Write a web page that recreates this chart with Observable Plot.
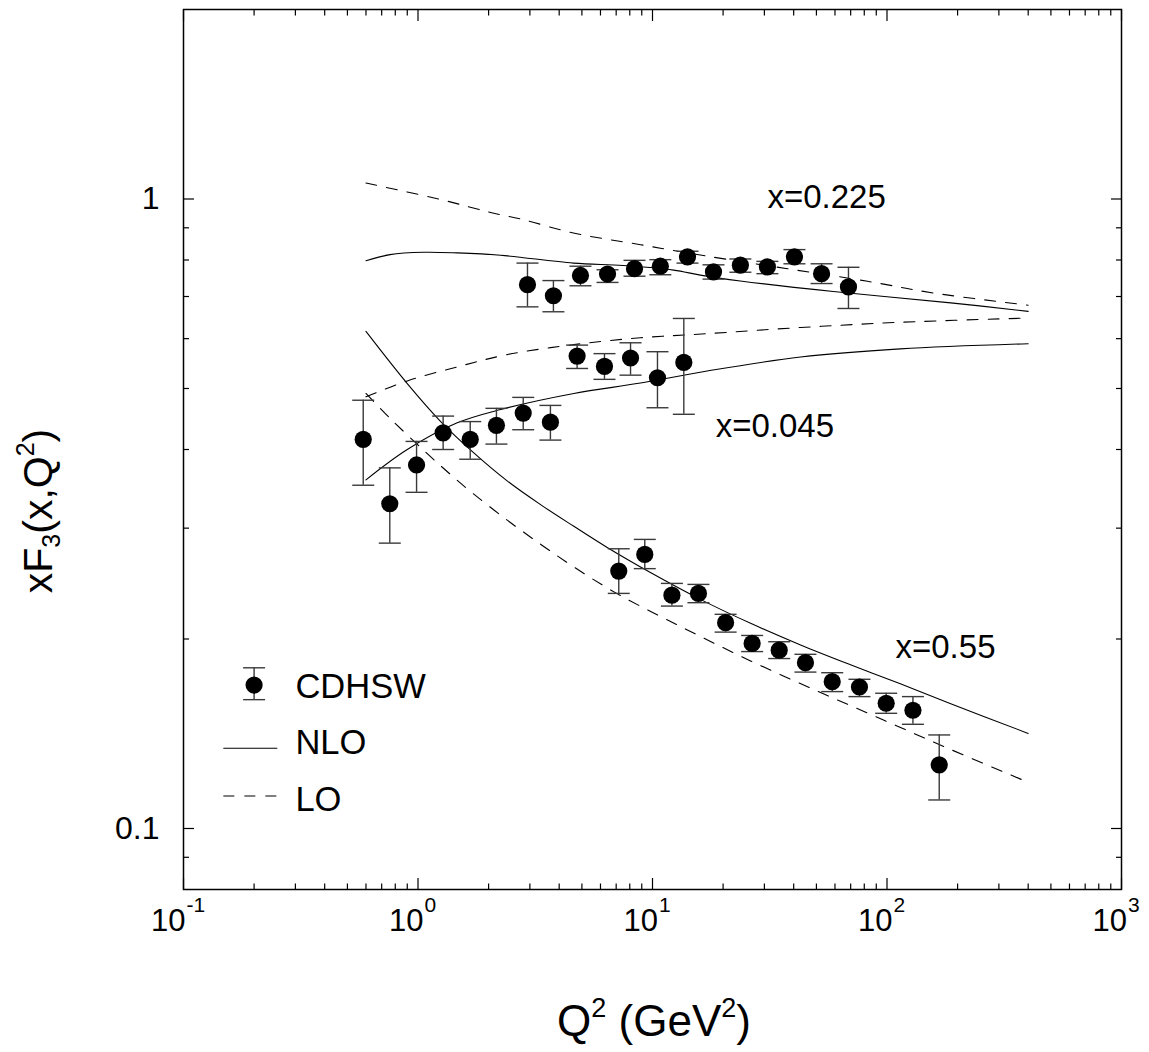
<!DOCTYPE html>
<html><head><meta charset="utf-8">
<script src="https://cdn.jsdelivr.net/npm/d3@7"></script>
<script src="https://cdn.jsdelivr.net/npm/@observablehq/plot@0.6"></script>
<style>
html,body{margin:0;padding:0;background:#fff;}
#chart{width:1149px;height:1052px;}
</style></head><body><div id="chart"></div>
<script>
// ---------- data ----------
// CDHSW points, x = 0.225
const q225  = [2.93, 3.78, 4.93, 6.43, 8.38, 10.8, 14.1, 18.2, 23.7, 30.9, 40.3, 52.6, 68.5];
const y225  = [0.731, 0.702, 0.756, 0.760, 0.775, 0.782, 0.809, 0.766, 0.785, 0.780, 0.809, 0.761, 0.725];
const lo225 = [0.674, 0.662, 0.728, 0.737, 0.754, 0.758, 0.791, 0.746, 0.765, 0.761, 0.789, 0.734, 0.670];
const hi225 = [0.791, 0.742, 0.782, 0.772, 0.799, 0.801, 0.826, 0.786, 0.803, 0.796, 0.831, 0.789, 0.779];
// CDHSW points, x = 0.045
const q045  = [0.584, 0.758, 0.986, 1.28, 1.67, 2.16, 2.81, 3.67, 4.77, 6.24, 8.06, 10.5, 13.6];
const y045  = [0.415, 0.328, 0.378, 0.425, 0.415, 0.437, 0.457, 0.442, 0.563, 0.542, 0.559, 0.520, 0.550];
const lo045 = [0.351, 0.284, 0.342, 0.400, 0.386, 0.408, 0.430, 0.414, 0.538, 0.517, 0.525, 0.466, 0.455];
const hi045 = [0.479, 0.374, 0.412, 0.452, 0.443, 0.465, 0.484, 0.470, 0.586, 0.568, 0.591, 0.572, 0.646];
// CDHSW points, x = 0.55
const q55  = [7.18, 9.27, 12.1, 15.7, 20.5, 26.6, 34.7, 44.9, 58.4, 76.3, 99.2, 129, 167];
const y55  = [0.2564, 0.2725, 0.2348, 0.2363, 0.2123, 0.1968, 0.1920, 0.1834, 0.1711, 0.1678, 0.1581, 0.1541, 0.1262];
const lo55 = [0.2363, 0.2587, 0.2256, 0.2284, 0.2051, 0.1910, 0.1862, 0.1772, 0.1650, 0.1620, 0.1524, 0.1464, 0.1110];
const hi55 = [0.2782, 0.2879, 0.2451, 0.2442, 0.2189, 0.2026, 0.1980, 0.1891, 0.1768, 0.1726, 0.1640, 0.1620, 0.1408];

// NLO (solid) and LO (dashed) curves
const nlo225Q = [0.6, 0.76, 1.06, 1.47, 2.25, 4.6, 7.5, 12.3, 16, 23.7, 59, 187, 400];
const nlo225Y = [0.798, 0.816, 0.823, 0.821, 0.814, 0.791, 0.784, 0.771, 0.757, 0.741, 0.713, 0.684, 0.663];
const lo225Q  = [0.6, 1.25, 2.04, 2.82, 4.6, 8.89, 17.2, 82.6, 158, 400];
const lo225Y  = [1.060, 0.998, 0.952, 0.927, 0.883, 0.846, 0.811, 0.740, 0.709, 0.678];
const nlo045Q = [0.6, 0.9, 1.47, 2.25, 4.62, 8.89, 17.1, 42.8, 114, 400];
const nlo045Y = [0.358, 0.400, 0.441, 0.463, 0.491, 0.510, 0.533, 0.561, 0.578, 0.589];
const lo045Q  = [0.6, 0.9, 1.47, 2.4, 4.62, 8.89, 17.1, 42.8, 114, 400];
const lo045Y  = [0.485, 0.514, 0.541, 0.566, 0.587, 0.602, 0.611, 0.625, 0.637, 0.647];
const nlo55Q  = [0.6, 0.9, 1.25, 1.73, 2.40, 3.33, 4.62, 6.41, 9.80, 16.0, 26.2, 42.8, 69.9, 114, 187, 400];
const nlo55Y  = [0.616, 0.509, 0.443, 0.395, 0.3566, 0.327, 0.302, 0.2795, 0.255, 0.2312, 0.2118, 0.1957, 0.182, 0.1698, 0.1578, 0.1416];
const lo55Q   = [0.6, 0.763, 1.056, 1.376, 1.725, 2.41, 3.33, 4.60, 7.09, 13.6, 26.2, 50.5, 96.6, 187, 400];
const lo55Y   = [0.491, 0.4477, 0.399, 0.365, 0.340, 0.3086, 0.2829, 0.2606, 0.2359, 0.2081, 0.1846, 0.1653, 0.1487, 0.1335, 0.1184];

// curve labels
const annLabels = ["x=0.225", "x=0.045", "x=0.55"];
const annQ = [30.9, 18.6, 108.7];
const annY = [0.969, 0.418, 0.1868];

// ticks
const xMajor = [0.1, 1, 10, 100, 1000];
const xExpLabels = ["-1", "0", "1", "2", "3"];
const xMinor = [0.2,0.3,0.4,0.5,0.6,0.7,0.8,0.9, 2,3,4,5,6,7,8,9, 20,30,40,50,60,70,80,90, 200,300,400,500,600,700,800,900];
const yMajor = [0.1, 1];
const yTickLabels = ["0.1", "1"];
const yMinor = [0.09, 0.2, 0.3, 0.4, 0.5, 0.6, 0.7, 0.8, 0.9];

const legendLabels = ["CDHSW", "NLO", "LO"];

// ---------- tables ----------
const points = [
  ...q225.map((q,i)=>({q, y:y225[i], lo:lo225[i], hi:hi225[i]})),
  ...q045.map((q,i)=>({q, y:y045[i], lo:lo045[i], hi:hi045[i]})),
  ...q55.map((q,i)=>({q, y:y55[i], lo:lo55[i], hi:hi55[i]}))
];
const mk = (id, Q, Y) => Q.map((q,i)=>({id, q, y:Y[i]}));
const nloCurves = [...mk("225",nlo225Q,nlo225Y), ...mk("045",nlo045Q,nlo045Y), ...mk("55",nlo55Q,nlo55Y)];
const loCurves  = [...mk("225",lo225Q,lo225Y),  ...mk("045",lo045Q,lo045Y),  ...mk("55",lo55Q,lo55Y)];
const ann = annLabels.map((t,i)=>({t, q:annQ[i], y:annY[i]}));

const FONT = "'Liberation Sans', Arial, Helvetica, sans-serif";
const capSymbol = {draw(ctx){ ctx.moveTo(-11,0); ctx.lineTo(11,0); }};
const DASH = "11,10";
const ERR = "#3a3a3a";

const legendX = 0.2, legendTextX = 0.30;
const legendRows = [
  {t: legendLabels[0], y: 0.1614},
  {t: legendLabels[1], y: 0.1312},
  {t: legendLabels[2], y: 0.1066}
];

const plot = Plot.plot({
  width: 1149, height: 1052,
  marginLeft: 183, marginRight: 28, marginTop: 9, marginBottom: 163,
  style: {fontFamily: FONT, fontSize: "31px", color: "black", background: "white", overflow: "visible"},
  x: {type: "log", domain: [0.1, 1000], axis: null},
  y: {type: "log", domain: [0.08, 2], axis: null},
  marks: [
    // inward ticks on all four sides
    Plot.axisX(xMajor, {anchor: "bottom", tickSize: -11, tickFormat: () => "", label: null, strokeWidth: 1.2}),
    Plot.axisX(xMinor, {anchor: "bottom", tickSize: -5.5, tickFormat: () => "", label: null, strokeWidth: 1.2}),
    Plot.axisX(xMajor, {anchor: "top", tickSize: -11, tickFormat: () => "", label: null, strokeWidth: 1.2}),
    Plot.axisX(xMinor, {anchor: "top", tickSize: -5.5, tickFormat: () => "", label: null, strokeWidth: 1.2}),
    Plot.axisY(yMajor, {anchor: "left", tickSize: -11, tickFormat: () => "", label: null, strokeWidth: 1.2}),
    Plot.axisY(yMinor, {anchor: "left", tickSize: -6, tickFormat: () => "", label: null, strokeWidth: 1.2}),
    Plot.axisY(yMajor, {anchor: "right", tickSize: -11, tickFormat: () => "", label: null, strokeWidth: 1.2}),
    Plot.axisY(yMinor, {anchor: "right", tickSize: -6, tickFormat: () => "", label: null, strokeWidth: 1.2}),
    Plot.frame({stroke: "black", strokeWidth: 1.5}),
    // y tick labels
    Plot.text(yMajor, {y: d => d, frameAnchor: "left", dx: -24, text: (d,i) => yTickLabels[i], textAnchor: "end", lineAnchor: "middle", fontSize: 32}),
    // theory curves
    Plot.line(nloCurves, {x: "q", y: "y", z: "id", curve: "catmull-rom", stroke: "black", strokeWidth: 1.1}),
    Plot.line(loCurves,  {x: "q", y: "y", z: "id", curve: "catmull-rom", stroke: "black", strokeWidth: 1.1, strokeDasharray: DASH}),
    // data with error bars
    Plot.ruleX(points, {x: "q", y1: "lo", y2: "hi", stroke: ERR, strokeWidth: 1.4}),
    Plot.dot(points, {x: "q", y: "lo", symbol: capSymbol, stroke: ERR, strokeWidth: 1.4, fill: "none"}),
    Plot.dot(points, {x: "q", y: "hi", symbol: capSymbol, stroke: ERR, strokeWidth: 1.4, fill: "none"}),
    Plot.dot(points, {x: "q", y: "y", r: 8.6, fill: "black", stroke: "none"}),
    // curve labels
    Plot.text(ann, {x: "q", y: "y", text: "t", textAnchor: "start", lineAnchor: "bottom", fontSize: 33}),
    // legend
    Plot.ruleX([legendX], {x: d => d, y1: 0.1602, y2: 0.180, stroke: ERR, strokeWidth: 1.4}),
    Plot.dot([0.1602, 0.180], {x: () => legendX, y: d => d, symbol: capSymbol, stroke: ERR, strokeWidth: 1.4, fill: "none"}),
    Plot.dot([0.169], {x: () => legendX, y: d => d, r: 8.6, fill: "black"}),
    Plot.ruleY([0.1341], {y: d => d, x1: 0.1486, x2: 0.2524, stroke: "black", strokeWidth: 1.1}),
    Plot.ruleY([0.1126], {y: d => d, x1: 0.1486, x2: 0.2524, stroke: "black", strokeWidth: 1.1, strokeDasharray: DASH}),
    Plot.text(legendRows, {x: () => legendTextX, y: "y", text: "t", textAnchor: "start", lineAnchor: "bottom", fontSize: 34.5})
  ]
});

document.getElementById("chart").appendChild(plot);

// x tick labels with superscript exponents, placed through Plot's scales
const svg = d3.select(plot);
const sx = plot.scale("x"), sy = plot.scale("y");
const yBottom = sy.apply(0.08);
xMajor.forEach((v, i) => {
  const t = svg.append("text")
    .attr("x", sx.apply(v) - 5).attr("y", yBottom + 42)
    .attr("text-anchor", "middle").attr("font-family", FONT).attr("font-size", 31).attr("fill", "black");
  t.append("tspan").text("10");
  t.append("tspan").attr("font-size", 21).attr("dy", -19).attr("dx", 1).text(xExpLabels[i]);
});

// x axis title
const xc = (sx.apply(0.1) + sx.apply(1000)) / 2 + 2;
const xt = svg.append("text").attr("x", xc).attr("y", yBottom + 147)
  .attr("text-anchor", "middle").attr("font-family", FONT).attr("font-size", 44).attr("fill", "black");
xt.append("tspan").text("Q");
xt.append("tspan").attr("font-size", 27).attr("dy", -19).text("2");
xt.append("tspan").attr("dy", 19).text("\u00a0(GeV");
xt.append("tspan").attr("font-size", 27).attr("dy", -19).text("2");
xt.append("tspan").attr("dy", 19).text(")");

// y axis title
const yc = (sy.apply(0.08) + sy.apply(2)) / 2 + 62;
const yt = svg.append("text").attr("transform", `translate(52,${yc}) rotate(-90)`)
  .attr("text-anchor", "middle").attr("font-family", FONT).attr("font-size", 41).attr("fill", "black");
yt.append("tspan").text("xF");
yt.append("tspan").attr("font-size", 25).attr("dy", 8).text("3");
yt.append("tspan").attr("dy", -8).text("(x,Q");
yt.append("tspan").attr("font-size", 25).attr("dy", -18).text("2");
yt.append("tspan").attr("dy", 18).text(")");
</script>
</body></html>
